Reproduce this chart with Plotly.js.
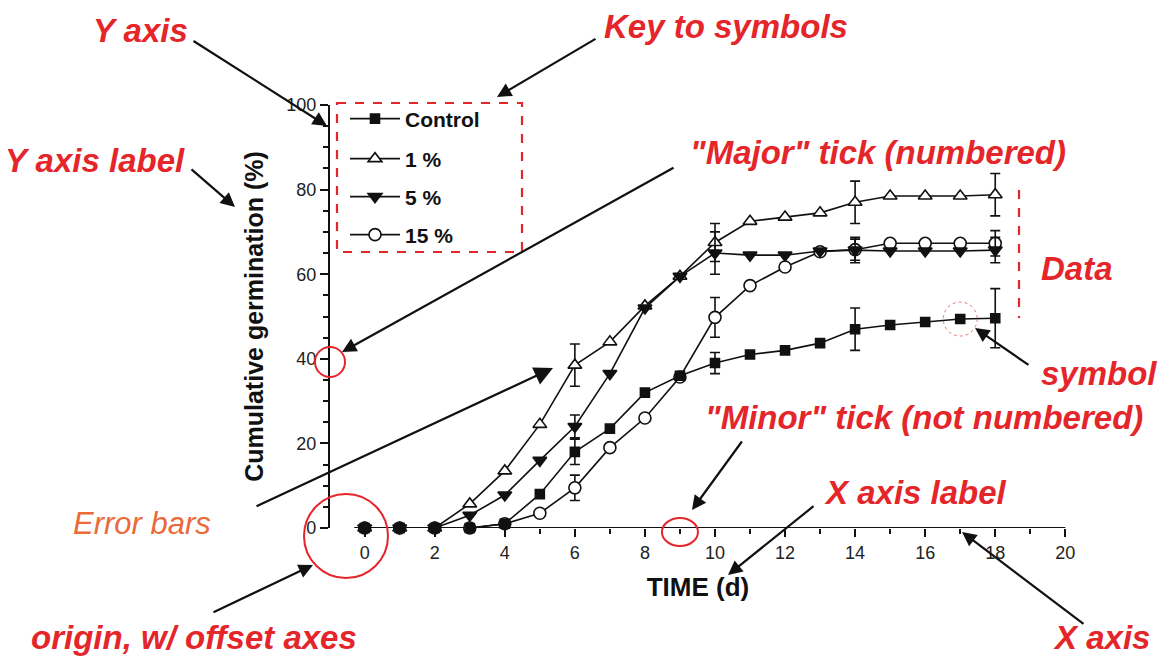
<!DOCTYPE html>
<html>
<head>
<meta charset="utf-8">
<script src="https://cdn.plot.ly/plotly-3.0.1.min.js"></script>
<style>html,body{margin:0;padding:0;background:#fff;}#chart{width:1168px;height:656px;}</style>
</head>
<body>
<div id="chart"></div>
<script>
// ---- data ----
const days = [0,1,2,3,4,5,6,7,8,9,10,11,12,13,14,15,16,17,18];
const seriesNames = ['Control', '1 %', '5 %', '15 %'];
const control = [0,0,0,0,1,8,18,23.5,32,36,39,41,42,43.7,47,48,48.7,49.4,49.6];
const pct1    = [0,0,0,5.7,13.5,24.5,38.5,44,52.5,59.5,67.5,72.5,73.5,74.5,77,78.5,78.5,78.5,78.8];
const pct5    = [0,0,0,3,7.8,16,24,36.5,52,59.5,65,64.5,64.5,65.5,65.7,65.5,65.5,65.5,65.7];
const pct15   = [0,0,0,0,1,3.5,9.5,19,26,35.7,49.8,57.3,61.7,65.3,65.8,67.3,67.3,67.3,67.3];
const N = NaN;
const controlErr = [N,N,N,N,N,N,3,N,N,N,2.5,N,N,N,5,N,N,N,7];
const pct1Err    = [N,N,N,N,N,N,5,N,N,N,4.5,N,N,N,5,N,N,N,5];
const pct5Err    = [N,N,N,N,N,N,2.7,N,N,N,5,N,N,N,3,N,N,N,3];
const pct15Err   = [N,N,N,N,N,N,3,N,N,N,4.7,N,N,N,2.5,N,N,N,3];
const xTickVals = [0,2,4,6,8,10,12,14,16,18,20];
const yTickVals = [0,20,40,60,80,100];

// ---- helpers (pixel -> paper) ----
const L = 330, R = 1066, T = 105, B = 528;
const px = v => (v - L) / (R - L);
const py = v => (B - v) / (B - T);

const FONT = 'Liberation Sans, Arial, Helvetica, sans-serif';
const RED = '#e4262b';

function mk(name, y, err, symbol, size, fill, legendId) {
  return {
    x: days, y: y, name: '<b>' + name + '</b>', type: 'scatter', mode: 'lines+markers',
    legend: legendId, cliponaxis: false,
    line: {color: '#111', width: 1.6},
    marker: {symbol: symbol, size: size, color: fill, line: {color: '#111', width: 1.6}},
    error_y: {type: 'data', array: err, visible: true, color: '#111', thickness: 1.6, width: 5}
  };
}

const traces = [
  mk(seriesNames[3], pct15, pct15Err, 'circle', 12, '#fff', 'legend4'),
  mk(seriesNames[1], pct1, pct1Err, 'triangle-up', 12, '#fff', 'legend2'),
  mk(seriesNames[2], pct5, pct5Err, 'triangle-down', 12, '#111', 'legend3'),
  mk(seriesNames[0], control, controlErr, 'square', 9, '#111', 'legend')
];

function leg(yPix) {
  return {x: px(345), y: py(yPix), xanchor: 'left', yanchor: 'middle', bgcolor: 'rgba(0,0,0,0)',
          font: {family: FONT, size: 21, color: '#111'}, itemwidth: 50, borderwidth: 0};
}

function label(text, xPix, yPix, opts) {
  opts = opts || {};
  return Object.assign({
    xref: 'paper', yref: 'paper', x: px(xPix), y: py(yPix), showarrow: false,
    xanchor: 'center', yanchor: 'middle',
    text: '<b><i>' + text + '</i></b>',
    font: {family: FONT, size: 33, color: RED}
  }, opts);
}
function arrow(tailX, tailY, tipX, tipY, size) {
  return {
    xref: 'paper', yref: 'paper', x: px(tipX), y: py(tipY), text: '', showarrow: true,
    ax: tailX - tipX, ay: tailY - tipY, axref: 'pixel', ayref: 'pixel',
    arrowhead: 2, arrowsize: size || 1.3, arrowwidth: 2.2, arrowcolor: '#111', standoff: 0
  };
}

const annotations = [
  label('Y axis', 140, 30),
  label('Key to symbols', 726, 26),
  label('Y axis label', 187, 160, {xanchor: 'right'}),
  label('"Major" tick (numbered)', 878, 152),
  label('Data', 1077, 268),
  label('symbol', 1099, 373),
  label('"Minor" tick (not numbered)', 924, 417),
  label('X axis label', 915, 492),
  label('X axis', 1101, 637),
  label('origin, w/ offset axes', 194, 637),
  {xref: 'paper', yref: 'paper', x: px(142), y: py(523), showarrow: false, xanchor: 'center', yanchor: 'middle',
   text: '<i>Error bars</i>', font: {family: FONT, size: 31, color: '#ea6a3a'}},
  arrow(192, 40, 327, 126),
  arrow(597, 38, 497, 97),
  arrow(190, 168, 235, 207),
  arrow(675, 167, 342, 352),
  arrow(255, 507, 553, 368, 1.7),
  arrow(743, 440, 692, 510),
  arrow(815, 505, 728, 575),
  arrow(1085, 625, 962, 532),
  arrow(1030, 366, 975, 328),
  arrow(212, 613, 313, 565)
];

function circ(xref, yref, xa, ya, rx, ry, dash, width, color) {
  return {type: 'circle', xref: xref, yref: yref, xsizemode: 'pixel', ysizemode: 'pixel',
          xanchor: xa, yanchor: ya, x0: -rx, x1: rx, y0: -ry, y1: ry,
          line: {color: color || RED, width: width || 2, dash: dash || 'solid'}, layer: 'above'};
}

const shapes = [
  // x axis line (offset from y axis)
  {type: 'line', xref: 'x', yref: 'y', x0: -0.3, x1: 20, y0: 0, y1: 0, line: {color: '#111', width: 2.2}, layer: 'below'},
  // key box
  {type: 'rect', xref: 'paper', yref: 'paper', x0: px(337), x1: px(522), y0: py(103), y1: py(252),
   line: {color: RED, width: 2.2, dash: 'dash'}},
  // data bracket
  {type: 'line', xref: 'paper', yref: 'paper', x0: px(1019), x1: px(1019), y0: py(190), y1: py(318),
   line: {color: RED, width: 2.2, dash: 'dash'}},
  circ('paper', 'paper', px(330), py(362), 15, 15),
  circ('paper', 'paper', px(346), py(536), 42, 42),
  circ('x', 'paper', 9, py(532), 18, 14),
  circ('x', 'y', 17, control[17], 17, 17, 'dot', 1, '#e77')
];

const axisFont = {family: FONT, size: 18, color: '#222'};
const layout = {
  width: 1168, height: 656,
  margin: {l: L, r: 1168 - R, t: T, b: 656 - B, pad: 0},
  paper_bgcolor: '#fff', plot_bgcolor: '#fff',
  showlegend: true,
  legend: leg(119), legend2: leg(159), legend3: leg(197), legend4: leg(235),
  xaxis: {
    range: [-0.99, 20.02], tickmode: 'array', tickvals: xTickVals, ticktext: xTickVals.map(String),
    ticks: 'outside', ticklen: 8, tickwidth: 2, tickcolor: '#111',
    minor: {dtick: 1, tick0: 0, ticks: 'outside', ticklen: 5, tickwidth: 2, tickcolor: '#111'},
    showline: false, showgrid: false, zeroline: false, tickfont: axisFont,
    title: {text: '<b>TIME (d)</b>', font: {family: FONT, size: 26, color: '#111'}, standoff: 16}
  },
  yaxis: {
    range: [0, 100], tickmode: 'array', tickvals: yTickVals, ticktext: yTickVals.map(String),
    ticks: 'outside', ticklen: 8, tickwidth: 2, tickcolor: '#111',
    minor: {dtick: 5, tick0: 0, ticks: 'outside', ticklen: 5, tickwidth: 2, tickcolor: '#111'},
    showline: true, linecolor: '#111', linewidth: 2.2, showgrid: false, zeroline: false,
    tickfont: axisFont,
    title: {text: '<b>Cumulative germination (%)</b>', font: {family: FONT, size: 25, color: '#111'}, standoff: 16}
  },
  annotations: annotations,
  shapes: shapes
};

Plotly.newPlot('chart', traces, layout, {staticPlot: true, displayModeBar: false});
</script>
</body>
</html>
